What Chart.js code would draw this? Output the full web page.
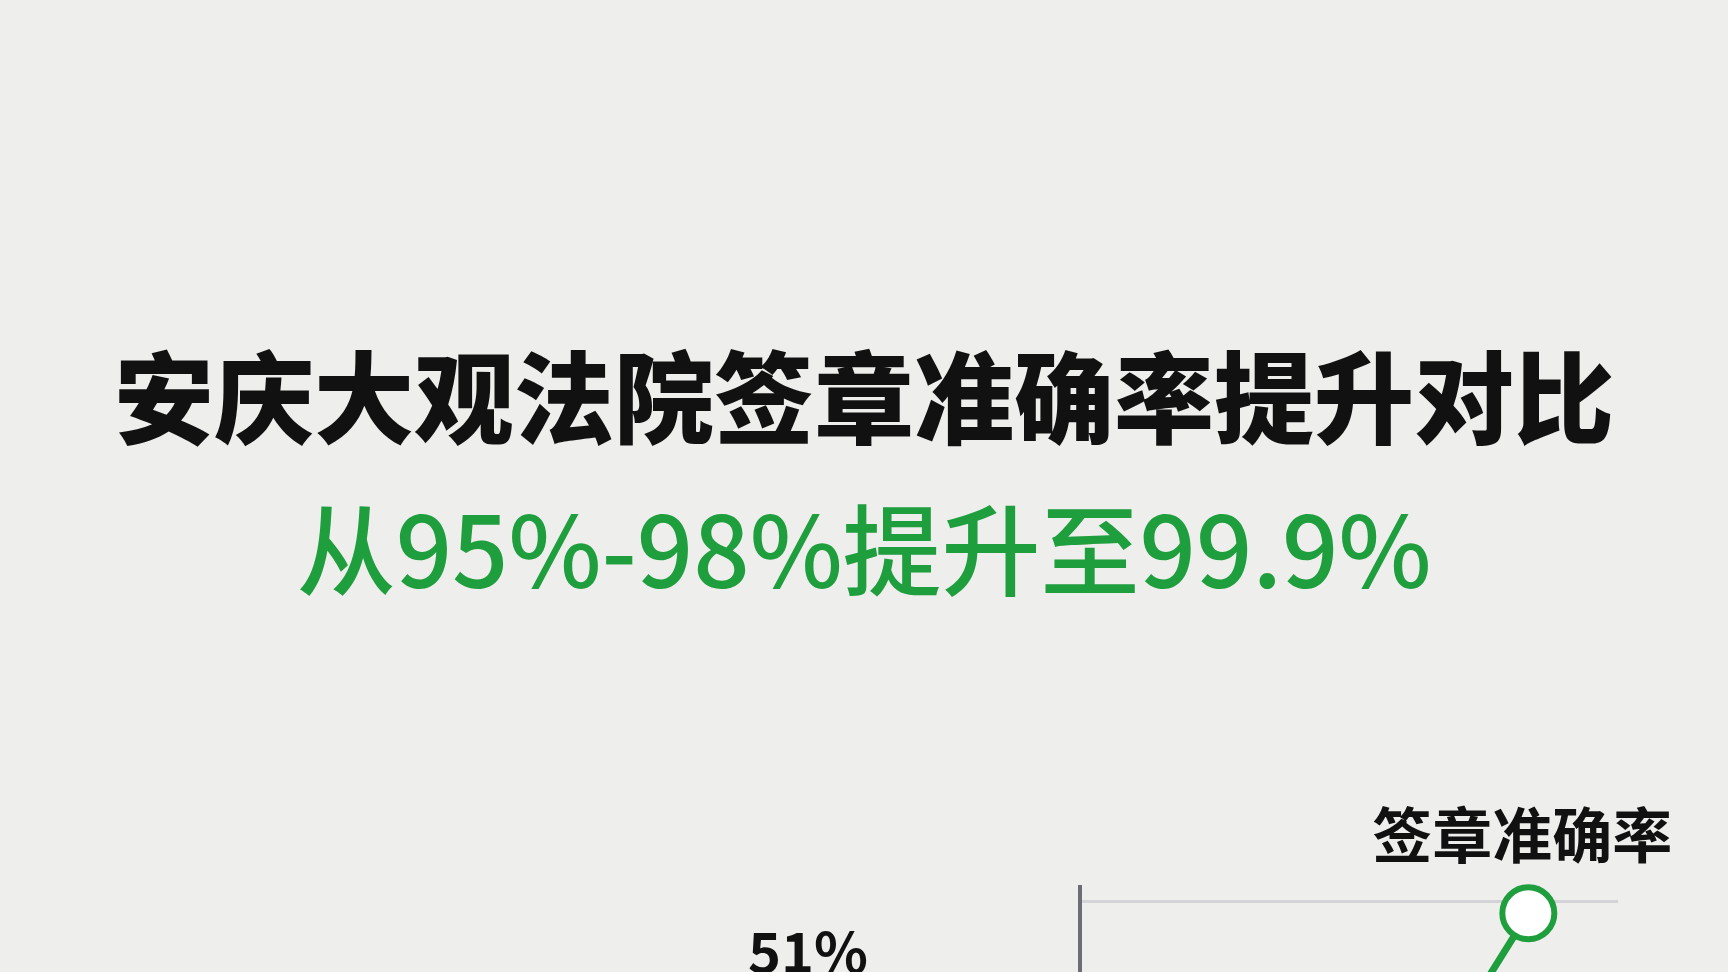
<!DOCTYPE html>
<html>
<head>
<meta charset="utf-8">
<script src="https://cdn.jsdelivr.net/npm/chart.js@4.4.1/dist/chart.umd.min.js"></script>
<style>
  html, body { margin: 0; padding: 0; overflow: hidden; background: #eeeeec; width: 1728px; height: 972px; }
  #wrap { position: absolute; left: 0; top: 0; width: 1728px; height: 1700px; }
</style>
</head>
<body>
<div id="wrap"><canvas id="c"></canvas></div>
<script>
// ---- data ----
const titleText = '安庆大观法院签章准确率提升对比';
const subtitleText = '从95%-98%提升至99.9%';
const categories = ['改造前', '过渡期', '改造后'];
const seriesName = '签章准确率';
const accuracyValues = [95, 97.5, 99.9];
const sideLabelValues = [51];

const GREEN = '#1f9e3e';
const CJK = "'Noto Sans CJK SC', 'Noto Sans', sans-serif";

const seriesLabelPlugin = {
  id: 'seriesLabel',
  afterDatasetsDraw(chart) {
    const meta = chart.getDatasetMeta(0);
    const last = meta.data[meta.data.length - 1];
    const ctx = chart.ctx;
    ctx.save();
    ctx.font = `bold 60px ${CJK}`;
    ctx.fillStyle = '#111111';
    ctx.textAlign = 'center';
    ctx.textBaseline = 'middle';
    ctx.fillText(chart.data.datasets[0].label, last.x - 6, last.y - 78);
    ctx.restore();
  }
};

const sideLabelPlugin = {
  id: 'sideLabel',
  afterDraw(chart) {
    const ctx = chart.ctx;
    const a = chart.chartArea;
    ctx.save();
    ctx.font = `bold 56px ${CJK}`;
    ctx.fillStyle = '#111111';
    ctx.textAlign = 'center';
    ctx.textBaseline = 'alphabetic';
    ctx.fillText(sideLabelValues[0] + '%', a.left - 272, a.top + 86);
    ctx.restore();
  }
};

new Chart(document.getElementById('c'), {
  type: 'line',
  data: {
    labels: categories,
    datasets: [{
      label: seriesName,
      data: accuracyValues,
      borderColor: GREEN,
      borderWidth: 7,
      pointRadius: 26,
      pointBorderWidth: 6,
      pointBackgroundColor: '#ffffff',
      pointBorderColor: GREEN,
      tension: 0,
      clip: false
    }]
  },
  options: {
    responsive: true,
    maintainAspectRatio: false,
    animation: false,
    layout: { padding: { left: 0, right: 0, top: 0, bottom: 20 } },
    plugins: {
      legend: { display: false },
      tooltip: { enabled: false },
      title: {
        display: true,
        text: titleText,
        color: '#111111',
        font: { family: CJK, size: 100, weight: '900', lineHeight: 1 },
        padding: { top: 348, bottom: 53 }
      },
      subtitle: {
        display: true,
        text: subtitleText,
        color: GREEN,
        font: { family: CJK, size: 99, weight: '500', lineHeight: 1 },
        padding: { top: 0, bottom: 287 }
      }
    },
    scales: {
      x: {
        offset: true,
        grid: { display: false },
        border: { display: false },
        ticks: { font: { family: CJK, size: 40 }, color: '#333' }
      },
      y: {
        min: 94,
        max: 100.12,
        afterFit(scale) { scale.width = 1080; },
        ticks: { display: false, stepSize: 1, includeBounds: false },
        grid: { color: '#d3d3d8', lineWidth: 3, drawTicks: false },
        border: { display: true, color: '#6c6c76', width: 4 }
      },
      yRight: {
        position: 'right',
        min: 94,
        max: 100.12,
        afterFit(scale) { scale.width = 110; },
        ticks: { display: false },
        grid: { display: false, drawTicks: false },
        border: { display: false }
      }
    }
  },
  plugins: [seriesLabelPlugin, sideLabelPlugin]
});
</script>
</body>
</html>
